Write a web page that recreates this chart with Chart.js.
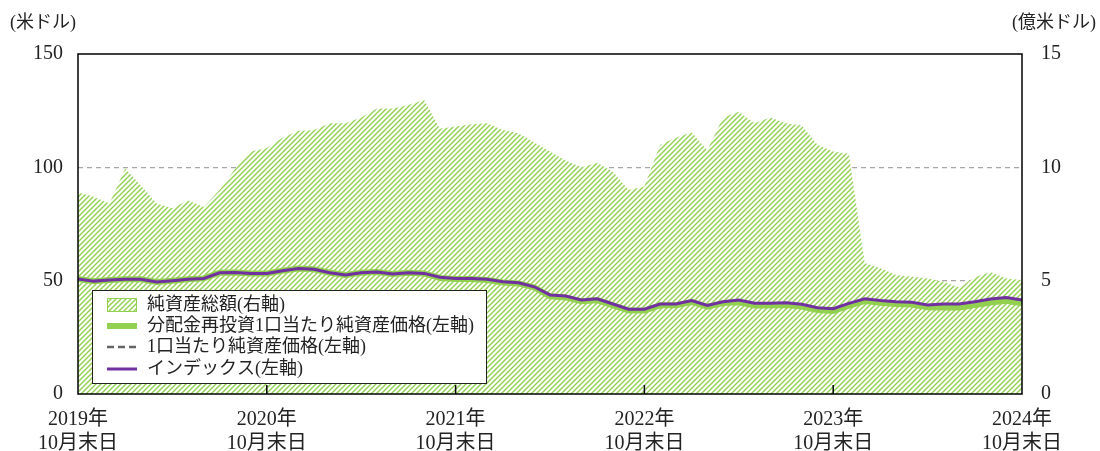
<!DOCTYPE html>
<html lang="ja">
<head>
<meta charset="utf-8">
<script src="https://cdn.jsdelivr.net/npm/chart.js@4.4.1/dist/chart.umd.min.js"></script>
<style>
  html, body { margin: 0; padding: 0; background: #fff; }
  #wrap { width: 1100px; height: 451px; position: relative; }
</style>
</head>
<body>
<div id="wrap"><canvas id="fundChart"></canvas></div>
<script>
// 月末日 (2019/10 - 2024/10)
const months = [
  '2019/10','2019/11','2019/12',
  '2020/01','2020/02','2020/03','2020/04','2020/05','2020/06','2020/07','2020/08','2020/09','2020/10','2020/11','2020/12',
  '2021/01','2021/02','2021/03','2021/04','2021/05','2021/06','2021/07','2021/08','2021/09','2021/10','2021/11','2021/12',
  '2022/01','2022/02','2022/03','2022/04','2022/05','2022/06','2022/07','2022/08','2022/09','2022/10','2022/11','2022/12',
  '2023/01','2023/02','2023/03','2023/04','2023/05','2023/06','2023/07','2023/08','2023/09','2023/10','2023/11','2023/12',
  '2024/01','2024/02','2024/03','2024/04','2024/05','2024/06','2024/07','2024/08','2024/09','2024/10'
];

// 純資産総額 (億米ドル, 右軸)
const netAssets = [
  8.9, 8.7, 8.4, 9.95, 9.2, 8.4, 8.2, 8.55, 8.25, 9.0,
  9.95, 10.7, 10.85, 11.3, 11.6, 11.65, 11.95, 11.95, 12.2, 12.6,
  12.6, 12.75, 12.97, 11.7, 11.8, 11.9, 11.95, 11.65, 11.5, 11.1,
  10.7, 10.3, 10.0, 10.2, 9.8, 9.0, 9.15, 11.0, 11.3, 11.55,
  10.75, 12.2, 12.45, 11.95, 12.2, 11.95, 11.85, 11.0, 10.7, 10.6,
  5.78, 5.55, 5.25, 5.17, 5.1, 4.95, 4.7, 5.15, 5.38, 5.1, 5.03
];

// 分配金再投資1口当たり純資産価格 (米ドル, 左軸)
const navReinvested = [
  50.7, 49.8, 50.3, 50.6, 50.6, 49.4, 50.0, 50.6, 51.0, 53.5,
  53.6, 53.2, 53.2, 54.4, 55.4, 55.0, 53.5, 52.5, 53.5, 53.8,
  52.9, 53.5, 53.2, 51.2, 50.7, 50.7, 50.3, 49.2, 48.8, 47.0,
  43.1, 42.6, 40.9, 41.4, 39.1, 36.8, 36.8, 39.1, 39.1, 40.6,
  38.5, 40.1, 40.5, 39.0, 39.0, 39.3, 38.6, 37.1, 36.6, 39.0,
  41.0, 40.2, 39.7, 39.5, 38.3, 38.2, 38.2, 39.2, 40.4, 41.1, 40.0
];

// 1口当たり純資産価格 (米ドル, 左軸) - 分配なしのため同値
const nav = [
  50.7, 49.8, 50.3, 50.6, 50.6, 49.4, 50.0, 50.6, 51.0, 53.5,
  53.6, 53.2, 53.2, 54.4, 55.4, 55.0, 53.5, 52.5, 53.5, 53.8,
  52.9, 53.5, 53.2, 51.2, 50.7, 50.7, 50.3, 49.2, 48.8, 47.0,
  43.1, 42.6, 40.9, 41.4, 39.1, 36.8, 36.8, 39.1, 39.1, 40.6,
  38.5, 40.1, 40.5, 39.0, 39.0, 39.3, 38.6, 37.1, 36.6, 39.0,
  41.0, 40.2, 39.7, 39.5, 38.3, 38.2, 38.2, 39.2, 40.4, 41.1, 40.0
];

// インデックス (左軸)
const indexLine = [
  50.7, 49.8, 50.3, 50.6, 50.6, 49.4, 50.0, 50.6, 51.0, 53.5,
  53.6, 53.2, 53.2, 54.4, 55.4, 55.0, 53.5, 52.5, 53.5, 53.8,
  52.9, 53.5, 53.2, 51.5, 51.0, 51.0, 50.6, 49.5, 49.1, 47.3,
  43.7, 43.2, 41.5, 42.0, 39.7, 37.4, 37.4, 39.7, 39.7, 41.2,
  39.1, 40.7, 41.5, 40.0, 40.0, 40.3, 39.6, 38.1, 37.6, 40.0,
  42.0, 41.2, 40.7, 40.5, 39.3, 39.7, 39.7, 40.7, 41.9, 42.6, 41.5
];

const leftTicks = [0, 50, 100, 150];
const rightTicks = [0, 5, 10, 15];
const tickMonth = '10';
const tickSub = '10月末日';

const legendLabels = [
  '純資産総額(右軸)',
  '分配金再投資1口当たり純資産価格(左軸)',
  '1口当たり純資産価格(左軸)',
  'インデックス(左軸)'
];

const GREEN = '#92d050';
const PURPLE = '#7030a0';
const FONT = '"Liberation Serif", "Noto Sans CJK JP", serif';

function makeHatch() {
  const c = document.createElement('canvas');
  c.width = 5; c.height = 5;
  const g = c.getContext('2d');
  g.fillStyle = '#fff';
  g.fillRect(0, 0, 5, 5);
  g.strokeStyle = GREEN;
  g.lineWidth = 1.4;
  g.beginPath();
  g.moveTo(-1, 6); g.lineTo(6, -1);
  g.moveTo(-1, 1); g.lineTo(1, -1);
  g.moveTo(4, 6); g.lineTo(6, 4);
  g.stroke();
  return g.createPattern(c, 'repeat');
}
const hatch = makeHatch();

// 枠線・内向き目盛・単位・凡例
const decorations = {
  id: 'decorations',
  afterDatasetsDraw(chart) {
    const { ctx, chartArea: a, scales } = chart;
    ctx.save();
    ctx.strokeStyle = '#000';
    ctx.lineWidth = 1.5;
    ctx.strokeRect(a.left, a.top, a.right - a.left, a.bottom - a.top);
    months.forEach((m, i) => {
      if (m.endsWith('/' + tickMonth) && i > 0 && i < months.length - 1) {
        const x = scales.x.getPixelForValue(i);
        ctx.beginPath();
        ctx.moveTo(x, a.bottom);
        ctx.lineTo(x, a.bottom - 9);
        ctx.stroke();
      }
    });

    // 凡例
    const bx = 92, by = 290, bw = 394, bh = 93;
    ctx.fillStyle = '#fff';
    ctx.fillRect(bx, by, bw, bh);
    ctx.lineWidth = 1;
    ctx.strokeStyle = '#222';
    ctx.strokeRect(bx + 0.5, by + 0.5, bw, bh);
    const rows = [305, 326, 347, 369];
    const sx = 107, sw = 30;
    // 純資産総額
    ctx.fillStyle = hatch;
    ctx.fillRect(sx, rows[0] - 7, sw, 14);
    ctx.strokeStyle = GREEN;
    ctx.lineWidth = 1;
    ctx.strokeRect(sx + 0.5, rows[0] - 6.5, sw - 1, 13);
    // 分配金再投資
    ctx.strokeStyle = GREEN;
    ctx.lineWidth = 6;
    ctx.beginPath(); ctx.moveTo(sx, rows[1]); ctx.lineTo(sx + sw, rows[1]); ctx.stroke();
    // 1口当たり
    ctx.strokeStyle = '#666';
    ctx.lineWidth = 2.5;
    ctx.setLineDash([7, 4]);
    ctx.beginPath(); ctx.moveTo(sx, rows[2]); ctx.lineTo(sx + sw, rows[2]); ctx.stroke();
    ctx.setLineDash([]);
    // インデックス
    ctx.strokeStyle = PURPLE;
    ctx.lineWidth = 3;
    ctx.beginPath(); ctx.moveTo(sx, rows[3]); ctx.lineTo(sx + sw, rows[3]); ctx.stroke();

    ctx.fillStyle = '#222';
    ctx.font = '18px ' + FONT;
    ctx.textAlign = 'left';
    ctx.textBaseline = 'middle';
    legendLabels.forEach((t, i) => ctx.fillText(t, 147, rows[i]));

    // 単位
    ctx.font = '18px ' + FONT;
    ctx.fillText('(米ドル)', 10, 23);
    ctx.textAlign = 'right';
    ctx.fillText('(億米ドル)', 1096, 23);
    ctx.restore();
  }
};

new Chart(document.getElementById('fundChart').getContext('2d'), {
  type: 'line',
  data: {
    labels: months,
    datasets: [
      {
        label: legendLabels[3],
        data: indexLine,
        yAxisID: 'y',
        borderColor: PURPLE,
        borderWidth: 3,
        pointRadius: 0,
        fill: false,
        order: 1
      },
      {
        label: legendLabels[1],
        data: navReinvested,
        yAxisID: 'y',
        borderColor: GREEN,
        borderWidth: 6,
        pointRadius: 0,
        fill: false,
        order: 2
      },
      {
        label: legendLabels[2],
        data: nav,
        yAxisID: 'y',
        borderColor: '#666',
        borderDash: [7, 4],
        borderWidth: 2,
        pointRadius: 0,
        fill: false,
        order: 3
      },
      {
        label: legendLabels[0],
        data: netAssets,
        yAxisID: 'y1',
        borderWidth: 0,
        borderColor: 'rgba(0,0,0,0)',
        backgroundColor: hatch,
        pointRadius: 0,
        fill: 'origin',
        order: 10
      }
    ]
  },
  options: {
    responsive: true,
    maintainAspectRatio: false,
    animation: false,
    layout: { padding: { top: 54, left: 0, right: 0, bottom: 0 } },
    plugins: {
      legend: { display: false },
      tooltip: { enabled: false }
    },
    scales: {
      x: {
        offset: false,
        grid: { display: false },
        border: { display: false },
        afterFit: s => { s.height = 57; },
        ticks: {
          autoSkip: false,
          maxRotation: 0,
          padding: 6,
          color: '#222',
          font: { family: FONT, size: 20, lineHeight: 1.2 },
          callback: (v, i) => {
            const m = months[i];
            return m.endsWith('/' + tickMonth) ? [m.slice(0, 4) + '年', tickSub] : '';
          }
        }
      },
      y: {
        position: 'left',
        min: leftTicks[0],
        max: leftTicks[leftTicks.length - 1],
        afterBuildTicks: s => { s.ticks = leftTicks.map(v => ({ value: v })); },
        afterFit: s => { s.width = 78; },
        border: { display: false, dash: [5, 4] },
        grid: {
          drawTicks: false,
          color: c => (c.tick.value > 0 && c.tick.value < 150) ? '#a6a6a6' : 'rgba(0,0,0,0)',
          lineWidth: 1.2
        },
        ticks: {
          padding: 15,
          color: '#222',
          font: { family: FONT, size: 20 }
        }
      },
      y1: {
        position: 'right',
        min: rightTicks[0],
        max: rightTicks[rightTicks.length - 1],
        afterBuildTicks: s => { s.ticks = rightTicks.map(v => ({ value: v })); },
        afterFit: s => { s.width = 78; },
        border: { display: false },
        grid: { display: false, drawTicks: false },
        ticks: {
          padding: 19,
          color: '#222',
          font: { family: FONT, size: 20 }
        }
      }
    }
  },
  plugins: [decorations]
});
</script>
</body>
</html>
